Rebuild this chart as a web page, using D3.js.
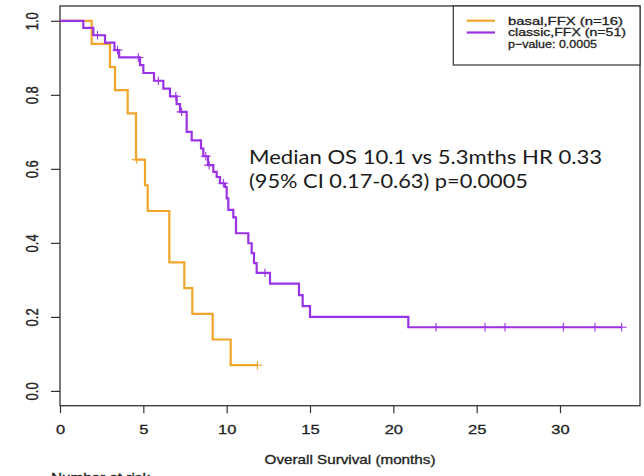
<!DOCTYPE html>
<html lang="en">
<head>
<meta charset="UTF-8">
<title>Overall survival, basal vs classic (FFX)</title>
<script src="https://d3js.org/d3.v7.min.js"></script>
<style>
    body { margin: 0; background: #fff; }
    svg { display: block; }
    /* R graphics text, a little heavy like the scanned figure */
    .rtext { font-family: "Liberation Sans", Arial, sans-serif; fill: #222; stroke: #222; stroke-width: 0.3px; }
    /* the note pasted on top of the figure */
    .note { font-family: Lato, "Open Sans", sans-serif; fill: #1a1a1a; font-size: 18.6px; }
</style>
</head>
<body>
<svg></svg>
<script>
// Kaplan-Meier steps: month of each drop and the survival after it
const basalTimes = [0, 1.9, 3.0, 3.3, 4.06, 4.56, 5.1, 5.26, 6.56, 7.46, 7.94, 9.16, 10.24];
const basalSurv = [1, 0.9375, 0.875, 0.8125, 0.75, 0.625, 0.5556, 0.4861, 0.3472, 0.2778, 0.2083, 0.1389, 0.0694];
const basalCensor = [4.6, 11.85];

const classicTimes = [0, 1.4, 2.0, 2.7, 3.27, 3.55, 4.8, 5.0, 5.64, 6.2, 6.6, 7.0, 7.2, 7.6, 7.9, 8.46, 8.6, 8.88,
    9.2, 9.4, 9.6, 9.9, 10.0, 10.1, 10.4, 10.56, 11.3, 11.5, 11.64, 11.8, 12.6, 14.34, 14.56, 15.0, 20.9];
const classicSurv = [1, 0.981, 0.961, 0.941, 0.921, 0.901, 0.880, 0.859, 0.838, 0.817, 0.796, 0.775, 0.754, 0.70, 0.677,
    0.655, 0.634, 0.61, 0.592, 0.578, 0.561, 0.551, 0.52, 0.489, 0.469, 0.426, 0.399, 0.372, 0.345, 0.319, 0.29,
    0.259, 0.229, 0.20, 0.172];
const classicCensor = [2.25, 3.45, 4.7, 5.9, 6.95, 7.3, 8.75, 8.95, 9.8, 12.3, 22.56, 25.5, 26.7, 30.2, 32.1, 33.7];

const xTicks = [0, 5, 10, 15, 20, 25, 30];
const yTicks = [0, 0.2, 0.4, 0.6, 0.8, 1.0];

const legendLabels = ["basal,FFX (n=16)", "classic,FFX (n=51)", "p\u2212value: 0.0005"];
const noteLines = ["Median OS 10.1 vs 5.3mths HR 0.33", "(95% CI 0.17-0.63) p=0.0005"];

const orange = "#f2a52b";
const purple = "#9a32e6";

const W = 644, H = 476;
const box = { left: 60, right: 640, top: 6, bottom: 405.7 };
const sx = 1.27; // the picture is stretched sideways, so its R text is too

const svg = d3.select("svg").attr("width", W).attr("height", H);

const x = d3.scaleLinear().domain([0, 34.8]).range([box.left, box.right]);
const y = d3.scaleLinear().domain([-0.04, 1.04]).range([box.bottom, box.top]);

// x axis
const gx = svg.append("g")
    .attr("transform", `translate(0,${box.bottom})`)
    .call(d3.axisBottom(x).tickValues(xTicks).tickSize(7.5).tickFormat(d3.format("d")));
gx.attr("font-family", null).attr("font-size", null);
gx.select(".domain").remove();
gx.selectAll(".tick line").attr("stroke", "#333").attr("stroke-width", 1.2);
gx.selectAll(".tick text")
    .attr("class", "rtext")
    .attr("y", 0).attr("dy", 0)
    .attr("font-size", 13)
    .attr("transform", `translate(0,${433.5 - box.bottom}) scale(${sx},1)`);

// y axis, labels turned like R's las=0
const gy = svg.append("g")
    .attr("transform", `translate(${box.left},0)`)
    .call(d3.axisLeft(y).tickValues(yTicks).tickSize(9).tickFormat(d3.format(".1f")));
gy.attr("font-family", null).attr("font-size", null);
gy.select(".domain").remove();
gy.selectAll(".tick line").attr("stroke", "#333").attr("stroke-width", 1.2);
gy.selectAll(".tick text")
    .attr("class", "rtext")
    .attr("x", 0).attr("dy", 0)
    .attr("font-size", 13)
    .attr("text-anchor", "middle")
    .attr("transform", `translate(${38.3 - box.left},0) scale(${sx},1) rotate(-90)`);

// plot frame
svg.append("rect")
    .attr("x", box.left).attr("y", box.top)
    .attr("width", box.right - box.left).attr("height", box.bottom - box.top)
    .attr("fill", "none").attr("stroke", "#333").attr("stroke-width", 1.3);

// survival curves
const line = d3.line().x(d => x(d[0])).y(d => y(d[1])).curve(d3.curveStepAfter);

function curvePoints(times, surv, censor) {
    const pts = times.map((t, i) => [t, surv[i]]);
    pts.push([d3.max(censor.concat(times)), surv[surv.length - 1]]);
    return pts;
}

function survAt(times, surv, t) {
    return surv[d3.bisectRight(times, t) - 1];
}

function drawCurve(times, surv, censor, color) {
    svg.append("path")
        .attr("d", line(curvePoints(times, surv, censor)))
        .attr("fill", "none")
        .attr("stroke", color)
        .attr("stroke-width", 2.2);

    svg.append("g").selectAll("path")
        .data(censor)
        .join("path")
        .attr("d", t => {
            const cx = x(t), cy = y(survAt(times, surv, t));
            return `M${cx - 5},${cy}h10M${cx},${cy - 4.25}v8.5`;
        })
        .attr("stroke", color)
        .attr("stroke-width", 1.1)
        .attr("fill", "none");
}

drawCurve(basalTimes, basalSurv, basalCensor, orange);
drawCurve(classicTimes, classicSurv, classicCensor, purple);

// legend
const lg = svg.append("g");
lg.append("rect")
    .attr("x", 453.3).attr("y", box.top)
    .attr("width", box.right - 453.3).attr("height", 59)
    .attr("fill", "#fff").attr("stroke", "#333").attr("stroke-width", 1.2);

const legendColors = [orange, purple, null];
const legendWidths = [115, 118, 89];
const legendY = d3.scalePoint().domain(legendLabels).range([20.7, 44.3]);

lg.selectAll("line")
    .data(legendLabels.filter((d, i) => legendColors[i]))
    .join("line")
    .attr("x1", 466.7).attr("x2", 495)
    .attr("y1", d => legendY(d)).attr("y2", d => legendY(d))
    .attr("stroke", (d, i) => legendColors[i])
    .attr("stroke-width", 2.2);

lg.selectAll("text")
    .data(legendLabels)
    .join("text")
    .attr("class", "rtext")
    .attr("x", 508)
    .attr("y", d => legendY(d) + 3.9)
    .attr("font-size", 11)
    .attr("textLength", (d, i) => legendWidths[i])
    .attr("lengthAdjust", "spacingAndGlyphs")
    .text(d => d);

// axis title and the risk table heading, which the figure crops at its foot
svg.append("text")
    .attr("class", "rtext")
    .attr("text-anchor", "middle")
    .attr("font-size", 12)
    .attr("transform", `translate(${(box.left + box.right) / 2},464) scale(${sx},1)`)
    .text("Overall Survival (months)");

svg.append("text")
    .attr("class", "rtext")
    .attr("font-size", 12)
    .attr("transform", `translate(51,481.5) scale(${sx},1)`)
    .text("Number at risk");

// note
const noteWidths = [353, 279];
svg.selectAll("text.note")
    .data(noteLines)
    .join("text")
    .attr("class", "note")
    .attr("x", 249)
    .attr("y", (d, i) => 163.5 + i * 24)
    .attr("textLength", (d, i) => noteWidths[i])
    .attr("lengthAdjust", "spacingAndGlyphs")
    .text(d => d);
</script>
</body>
</html>
